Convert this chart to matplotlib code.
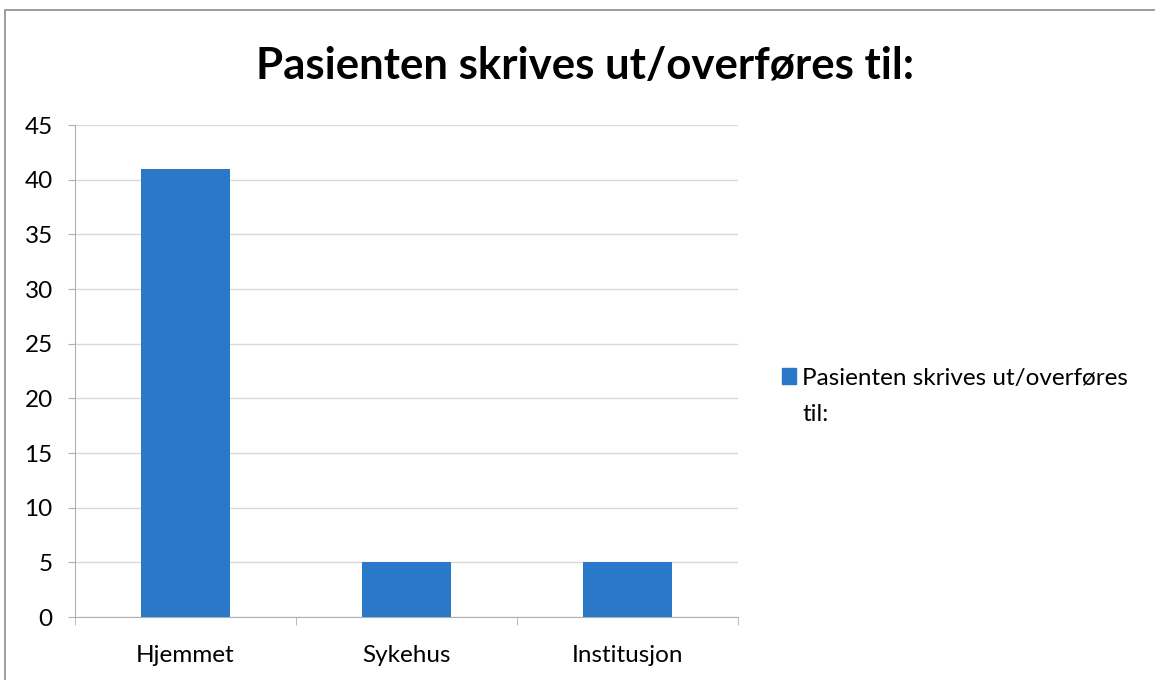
import numpy as np
import matplotlib.pyplot as plt
from matplotlib.patches import Rectangle

# ---------------- data ----------------
categories = ['Hjemmet', 'Sykehus', 'Institusjon']
values = [41, 5, 5]
series_name = ['Pasienten skrives ut/overføres', 'til:']   # legend text, wrapped like the original
title = 'Pasienten skrives ut/overføres til:'

plt.rcParams['font.family'] = ['Lato', 'DejaVu Sans']

fig = plt.figure(figsize=(11.55, 6.8), dpi=100)
ax = fig.add_axes([75 / 1155, 1 - 617 / 680, (738 - 75) / 1155, (617 - 125) / 680])

x = np.arange(len(categories))
ax.bar(x, values, width=0.4, color='#2a79c9', zorder=3)

ax.set_xlim(-0.5, len(categories) - 0.5)
ax.set_ylim(0, 45)
ax.set_yticks(range(0, 46, 5))
ax.set_xticks(x)
ax.set_xticklabels(categories, fontsize=17.5)
ax.set_xticks(np.arange(-0.5, len(categories), 1), minor=True)
ax.tick_params(axis='x', which='major', length=0, pad=20)
ax.tick_params(axis='x', which='minor', length=6, color='#b0b0b0', direction='out')
ax.tick_params(axis='y', length=5, color='#b0b0b0', labelsize=17.5, pad=11)

ax.grid(axis='y', color='#d9d9d9', linewidth=1, zorder=0)
for side in ['top', 'right']:
    ax.spines[side].set_visible(False)
ax.spines['left'].set_color('#b0b0b0')
ax.spines['bottom'].set_color('#b0b0b0')

fig.text(585 / 1155, 1 - 66 / 680, title, ha='center', va='center',
         fontsize=31.5, fontweight='bold')

# legend on the right
leg = fig.legend([Rectangle((0, 0), 1, 1, color='#2a79c9')], [series_name[0]],
                 loc='upper left', bbox_to_anchor=(772 / 1155, 1 - 358 / 680),
                 frameon=False, fontsize=17.5, handlelength=0.6, handleheight=0.6,
                 handletextpad=0.25, borderaxespad=0)

# second line of the legend label, under the first one
fig.canvas.draw()
bb = leg.get_texts()[0].get_window_extent().transformed(fig.transFigure.inverted())
fig.text(bb.x0, bb.y0 - 36 / 680, series_name[1], ha='left', va='bottom', fontsize=17.5)

# outer frame of the chart
fig.patches.append(Rectangle((5 / 1155, -0.1), 1.2, 1 - 10 / 680 + 0.1,
                             transform=fig.transFigure, fill=False,
                             edgecolor='#8c8c8c', linewidth=1.2))

fig.savefig('out.png', dpi=100)
